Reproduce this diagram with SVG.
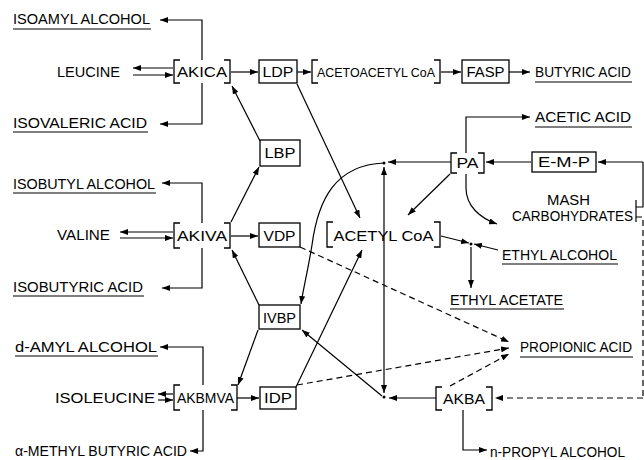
<svg xmlns="http://www.w3.org/2000/svg" width="644" height="460" viewBox="0 0 644 460">
<defs>
<marker id="ah" viewBox="0 0 8 6" refX="8" refY="3" markerWidth="8" markerHeight="6" markerUnits="userSpaceOnUse" orient="auto-start-reverse">
<path d="M0,0 L8,3 L0,6 z" fill="#000"/>
</marker>
<style>
text{font-family:"Liberation Sans",Arial,sans-serif;font-size:14px;fill:#000}
.c{text-anchor:middle}
.b{font-size:15px}
.s{font-size:12.5px}
.ln{fill:none;stroke:#000;stroke-width:1.2}
.a{marker-end:url(#ah)}
.d{stroke-dasharray:6 4}
.box{fill:#fff;stroke:#000;stroke-width:1.3}
.br{fill:none;stroke:#000;stroke-width:1.3}
.u{stroke:#000;stroke-width:1.2}
</style>
</defs>
<rect width="644" height="460" fill="#fff"/>

<g id="connectors">
<path class="ln a" d="M202 60 L202 20 L160 20"/>
<path class="ln a" d="M202 83 L202 124 L160 124"/>
<path class="ln a" d="M173 68 L133 68"/>
<path class="ln a" d="M133 75 L173 75"/>
<path class="ln a" d="M231 72 L258 72"/>
<path class="ln a" d="M297 72 L311 72"/>
<path class="ln a" d="M441 72 L461 72"/>
<path class="ln a" d="M509 72 L530 72"/>
<path class="ln a" d="M260 141 L232 86"/>
<path class="ln a" d="M297 84 L360 218"/>
<path class="ln a" d="M202 223 L202 183 L162 183"/>
<path class="ln a" d="M202 248 L202 288 L162 288"/>
<path class="ln a" d="M173 232 L120 232"/>
<path class="ln a" d="M120 238 L173 238"/>
<path class="ln a" d="M231 236 L258 236"/>
<path class="ln a" d="M231 222 L259 167"/>
<path class="ln a" d="M259 305 L232 250"/>
<path class="ln a" d="M203 385 L203 347 L160 347"/>
<path class="ln a" d="M203 410 L203 451 L190 451"/>
<path class="ln a" d="M173 394 L158 394"/>
<path class="ln a" d="M158 400 L173 400"/>
<path class="ln a" d="M237 398 L259 398"/>
<path class="ln a" d="M258 330 L238 385"/>
<path class="ln a" d="M296 387 L362 250"/>
<path class="ln a" d="M451 162 L388 162"/>
<path class="ln a" d="M531 162 L486 162"/>
<path class="ln a" d="M643 162 L598 162"/>
<path class="ln" d="M643 162 L643 207 L636 207"/>
<path class="ln" d="M636 200 L636 222"/>
<path class="ln a" d="M466 153 L466 117 L530 117"/>
<path class="ln a" d="M450 174 L408 215"/>
<path class="ln a" d="M466 174 L466 188 C466 206 480 218 497 224"/>
<path class="ln a" d="M384 163 C335 165 318 200 312 245 C308 270 303 290 301 304"/>
<path class="ln a" style="marker-start:url(#ah)" d="M384 167 L384 393"/>
<path class="ln a" d="M382 396 L302 330"/>
<path class="ln a" d="M436 398 L389 398"/>
<path class="ln a" d="M441 236 L469 243"/>
<path class="ln a" d="M498 250 L474 244"/>
<path class="ln a" d="M471 247 L471 288"/>
<path class="ln a" d="M463 410 L463 450 L487 450"/>
<path class="ln d" d="M636 217 L643 217 L643 398"/>
<path class="ln d a" d="M643 398 L495 398"/>
<path class="ln d a" d="M300 247 L509 342"/>
<path class="ln d a" d="M297 385 L509 348"/>
<path class="ln d a" d="M450 386 L509 354"/>
<circle cx="384" cy="163" r="1.5"/>
<circle cx="384" cy="397" r="1.5"/>
<circle cx="471" cy="244" r="1.5"/>
</g>

<g id="isoamyl-alcohol"><text x="13" y="24" textLength="137" lengthAdjust="spacingAndGlyphs">ISOAMYL ALCOHOL</text><line class="u" x1="13" y1="29" x2="151" y2="29"/></g>
<g id="leucine"><text x="57" y="77" textLength="63" lengthAdjust="spacingAndGlyphs">LEUCINE</text></g>
<g id="isovaleric-acid"><text x="13" y="128" textLength="134" lengthAdjust="spacingAndGlyphs">ISOVALERIC ACID</text><line class="u" x1="13" y1="132" x2="148" y2="132"/></g>
<g id="isobutyl-alcohol"><text x="13" y="189" textLength="142" lengthAdjust="spacingAndGlyphs">ISOBUTYL ALCOHOL</text><line class="u" x1="13" y1="193" x2="156" y2="193"/></g>
<g id="valine"><text x="57" y="240" textLength="53" lengthAdjust="spacingAndGlyphs">VALINE</text></g>
<g id="isobutyric-acid"><text x="13" y="292" textLength="130" lengthAdjust="spacingAndGlyphs">ISOBUTYRIC ACID</text><line class="u" x1="13" y1="296" x2="144" y2="296"/></g>
<g id="d-amyl-alcohol"><text x="15" y="352" textLength="142" lengthAdjust="spacingAndGlyphs">d-AMYL ALCOHOL</text><line class="u" x1="15" y1="356" x2="158" y2="356"/></g>
<g id="isoleucine"><text x="55" y="403" textLength="100" lengthAdjust="spacingAndGlyphs">ISOLEUCINE</text></g>
<g id="methyl-butyric-acid"><text x="15" y="456" textLength="172" lengthAdjust="spacingAndGlyphs">α-METHYL BUTYRIC ACID</text></g>

<g id="akica"><path class="br" d="M180 60 L174 60 L174 83 L180 83 M224 60 L230 60 L230 83 L224 83"/><text class="c b" x="202" y="77" textLength="50" lengthAdjust="spacingAndGlyphs">AKICA</text></g>
<g id="ldp"><rect class="box" x="259" y="60" width="38" height="23"/><text class="c b" x="278" y="77" textLength="31" lengthAdjust="spacingAndGlyphs">LDP</text></g>
<g id="acetoacetyl-coa"><path class="br" d="M318 60 L312 60 L312 83 L318 83 M434 60 L440 60 L440 83 L434 83"/><text class="c s" x="376" y="77" textLength="118" lengthAdjust="spacingAndGlyphs">ACETOACETYL CoA</text></g>
<g id="fasp"><rect class="box" x="462" y="60" width="47" height="23"/><text class="c b" x="485.5" y="77" textLength="38" lengthAdjust="spacingAndGlyphs">FASP</text></g>
<g id="butyric-acid"><text x="535" y="77" textLength="96" lengthAdjust="spacingAndGlyphs">BUTYRIC ACID</text><line class="u" x1="535" y1="82" x2="632" y2="82"/></g>
<g id="acetic-acid"><text x="535" y="122" textLength="96" lengthAdjust="spacingAndGlyphs">ACETIC ACID</text><line class="u" x1="535" y1="127" x2="632" y2="127"/></g>

<g id="lbp"><rect class="box" x="260" y="140" width="40" height="26"/><text class="c b" x="280" y="158" textLength="31" lengthAdjust="spacingAndGlyphs">LBP</text></g>
<g id="pa"><path class="br" d="M457 153 L451 153 L451 173 L457 173 M478 153 L484 153 L484 173 L478 173"/><text class="c b" x="467.5" y="168" textLength="22" lengthAdjust="spacingAndGlyphs">PA</text></g>
<g id="e-m-p"><rect class="box" x="532" y="152" width="64" height="20"/><text class="c b" x="564" y="167" textLength="52" lengthAdjust="spacingAndGlyphs">E-M-P</text></g>
<g id="mash-carbohydrates"><text x="547" y="205" textLength="43" lengthAdjust="spacingAndGlyphs">MASH</text><text x="512" y="221" textLength="121" lengthAdjust="spacingAndGlyphs">CARBOHYDRATES</text></g>

<g id="akiva"><path class="br" d="M180 223 L174 223 L174 248 L180 248 M224 223 L230 223 L230 248 L224 248"/><text class="c b" x="202" y="241" textLength="50" lengthAdjust="spacingAndGlyphs">AKIVA</text></g>
<g id="vdp"><rect class="box" x="259" y="223" width="41" height="24"/><text class="c b" x="279.5" y="241" textLength="32" lengthAdjust="spacingAndGlyphs">VDP</text></g>
<g id="acetyl-coa"><path class="br" d="M333 222 L327 222 L327 247 L333 247 M434 222 L440 222 L440 247 L434 247"/><text class="c b" x="383.5" y="241" textLength="100" lengthAdjust="spacingAndGlyphs">ACETYL CoA</text></g>
<g id="ethyl-alcohol"><text x="502" y="260" textLength="115" lengthAdjust="spacingAndGlyphs">ETHYL ALCOHOL</text><line class="u" x1="502" y1="264" x2="618" y2="264"/></g>
<g id="ethyl-acetate"><text x="450" y="305" textLength="113" lengthAdjust="spacingAndGlyphs">ETHYL ACETATE</text><line class="u" x1="450" y1="309" x2="564" y2="309"/></g>

<g id="ivbp"><rect class="box" x="259" y="305" width="41" height="24"/><text class="c b" x="279.5" y="323" textLength="33" lengthAdjust="spacingAndGlyphs">IVBP</text></g>
<g id="propionic-acid"><text x="520" y="352" textLength="112" lengthAdjust="spacingAndGlyphs">PROPIONIC ACID</text><line class="u" x1="520" y1="357" x2="633" y2="357"/></g>
<g id="akbmva"><path class="br" d="M180 385 L174 385 L174 410 L180 410 M231 385 L237 385 L237 410 L231 410"/><text class="c b" x="205.5" y="403" textLength="57" lengthAdjust="spacingAndGlyphs">AKBMVA</text></g>
<g id="idp"><rect class="box" x="260" y="387" width="36" height="22"/><text class="c b" x="278" y="403" textLength="28" lengthAdjust="spacingAndGlyphs">IDP</text></g>
<g id="akba"><path class="br" d="M442 387 L436 387 L436 410 L442 410 M486 387 L492 387 L492 410 L486 410"/><text class="c b" x="464" y="404" textLength="42" lengthAdjust="spacingAndGlyphs">AKBA</text></g>
<g id="n-propyl-alcohol"><text x="490" y="457" textLength="135" lengthAdjust="spacingAndGlyphs">n-PROPYL ALCOHOL</text></g>
</svg>
